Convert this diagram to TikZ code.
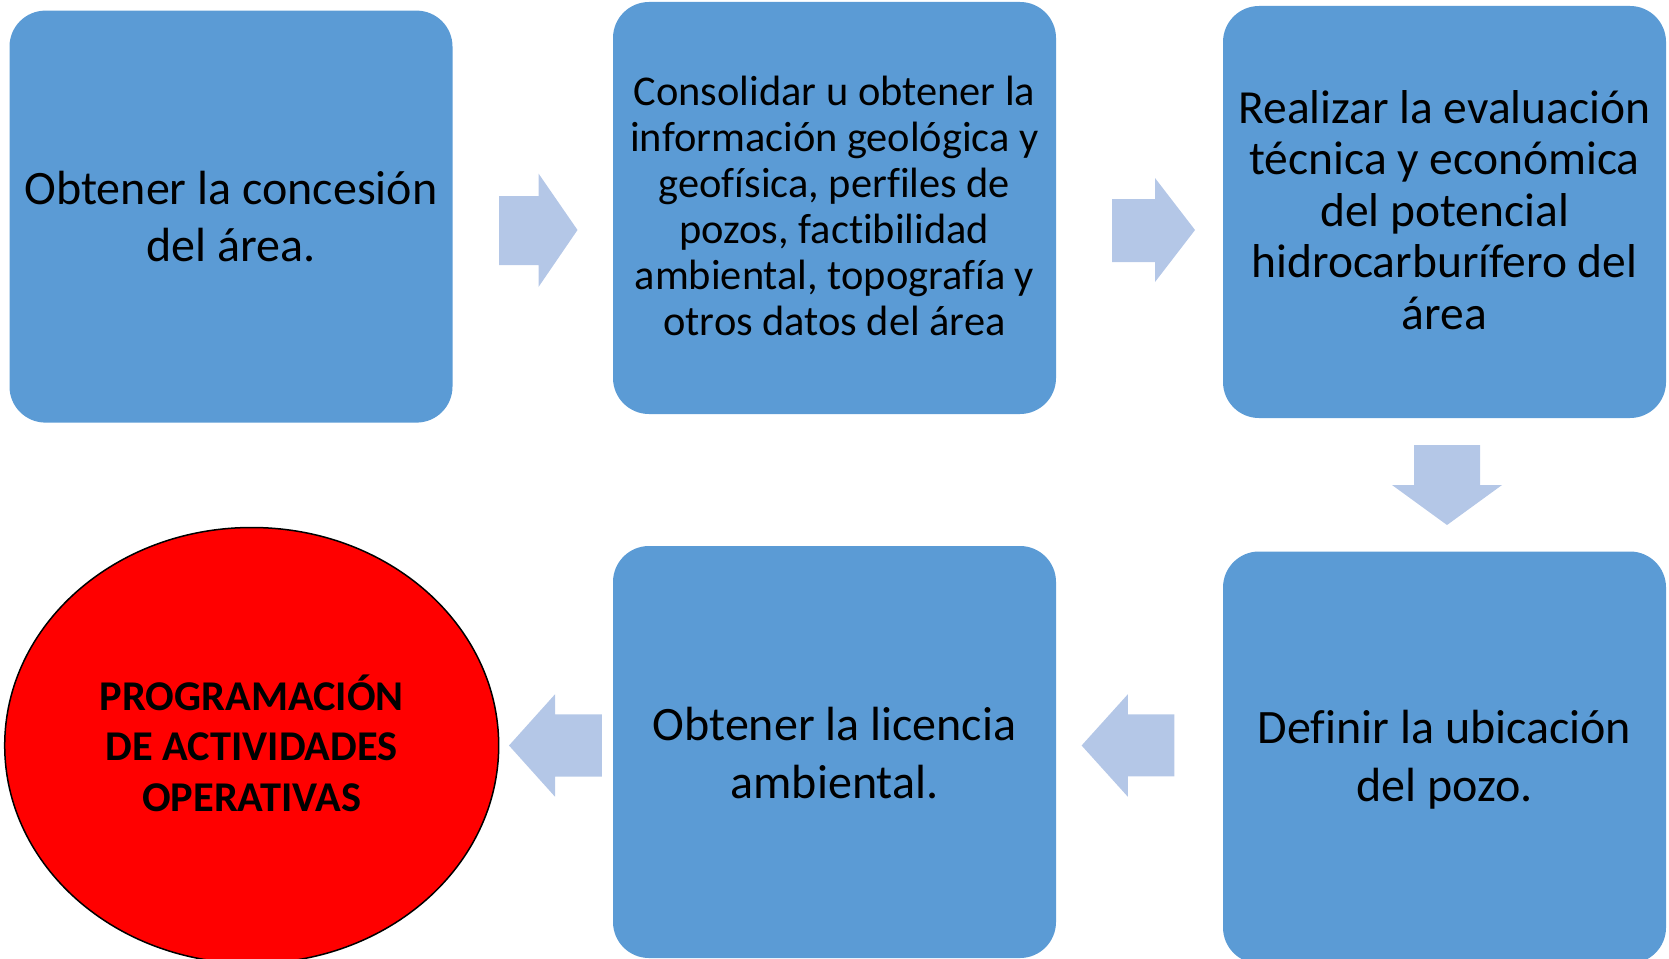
\documentclass[tikz,border=0pt]{standalone}
\usepackage{fontspec}
\setmainfont[Ligatures=NoCommon]{Carlito}
\usetikzlibrary{shapes.geometric}
\definecolor{boxblue}{RGB}{91,155,213}
\definecolor{arrowblue}{RGB}{180,199,231}
\definecolor{ovalred}{RGB}{255,0,0}
\tikzset{
  stepbox/.style={fill=boxblue, rounded corners=36pt, minimum width=443pt, minimum height=412pt, inner sep=0pt},
  steptext/.style={inner sep=0pt, align=center, text=black},
  endoval/.style={ellipse, fill=ovalred, draw=black, line width=1.5pt, minimum width=494pt, minimum height=436pt, inner sep=0pt},
  ovaltext/.style={inner sep=0pt, align=center, text=black, font=\bfseries\fontsize{42.4}{50.5}\selectfont},
  blockarrow/.style={fill=arrowblue, draw=none}
}
\begin{document}
\begin{tikzpicture}[x=1pt,y=-1pt]
\useasboundingbox (0,0) rectangle (1669,958);
\clip (0,0) rectangle (1669,958);
\node[stepbox] (b1) at (231,216.6) {};
\node[stepbox] (b2) at (834.5,208) {};
\node[stepbox] (b3) at (1444.5,212) {};
\node[stepbox] (b4) at (1444.5,757.5) {};
\node[stepbox] (b5) at (834.5,752) {};
\node[endoval] (e) at (251.7,745.5) {};
\node[steptext, font=\fontsize{48}{57.7}\selectfont] (t1) at (b1.center) {Obtener la concesión\\del área.};
\node[steptext, font=\fontsize{42.4}{46}\selectfont] (t2) at ([yshift=2.1pt]b2.center) {Consolidar u obtener la\\información geológica y\\geofísica, perfiles de\\pozos, factibilidad\\ambiental, topografía y\\otros datos del área};
\node[steptext, font=\fontsize{47.5}{51.6}\selectfont] (t3) at ([yshift=2.1pt]b3.center) {Realizar la evaluación\\técnica y económica\\del potencial\\hidrocarburífero del\\área};
\node[steptext, font=\fontsize{48}{57.5}\selectfont] (t4) at ([yshift=-2pt]b4.center) {Definir la ubicación\\del pozo.};
\node[steptext, font=\fontsize{48}{57.5}\selectfont] (t5) at ([yshift=-1pt]b5.center) {Obtener la licencia\\ambiental.};
\node[ovaltext] (te) at ([yshift=2.5pt]e.center) {PROGRAMACIÓN\\DE ACTIVIDADES\\OPERATIVAS};
% block arrows between the steps
\fill[blockarrow] (499,196) -- (538.5,196) -- (538.5,173.5) -- (577.5,230) -- (538.5,287) -- (538.5,265) -- (499,265) -- cycle;
\fill[blockarrow] (1112,199) -- (1155,199) -- (1155,178) -- (1195,230) -- (1155,282) -- (1155,262) -- (1112,262) -- cycle;
\fill[blockarrow] (1414,445) -- (1480,445) -- (1480,485) -- (1502,485) -- (1447,525) -- (1392,485) -- (1414,485) -- cycle;
\fill[blockarrow] (1174.4,714.3) -- (1127.8,714.3) -- (1127.8,694.3) -- (1081.6,745.5) -- (1127.8,796.7) -- (1127.8,776.3) -- (1174.4,776.3) -- cycle;
\fill[blockarrow] (601.8,714.3) -- (555,714.3) -- (555,694.3) -- (509,745.5) -- (555,796.7) -- (555,776.7) -- (601.8,776.7) -- cycle;
\end{tikzpicture}
\end{document}
